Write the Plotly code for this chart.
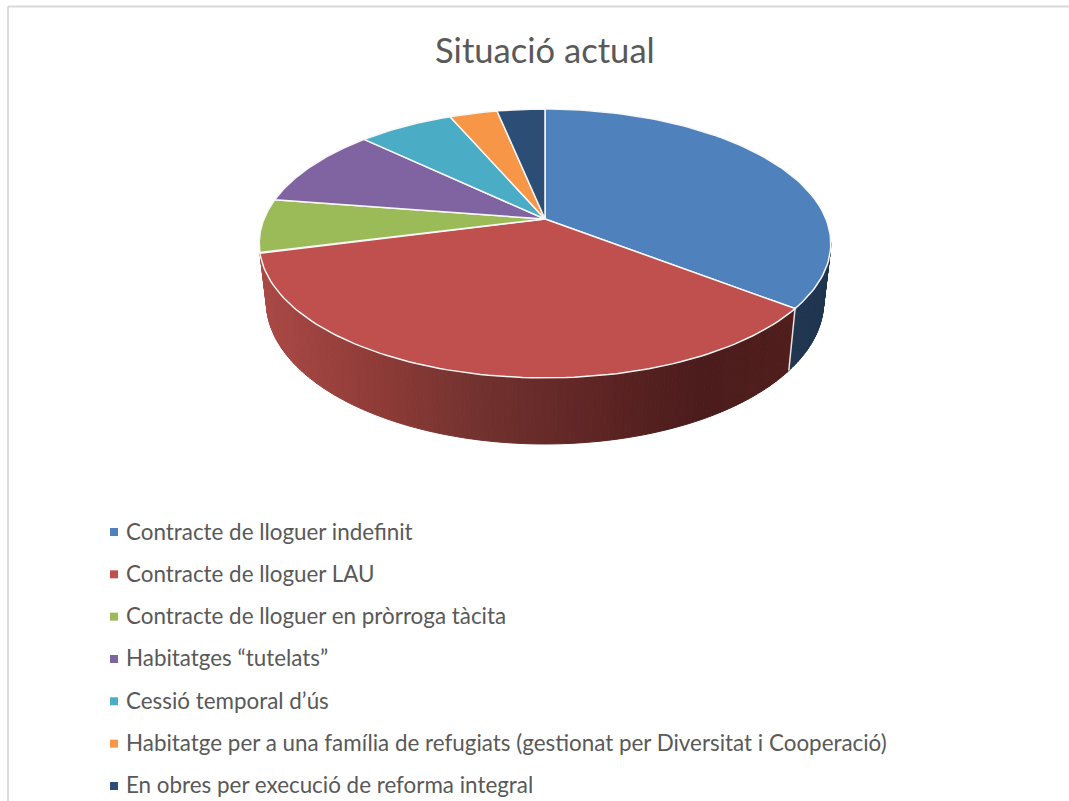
import numpy as np
import plotly.graph_objects as go

# Dwellings by current situation
categories = [
    "Contracte de lloguer indefinit",
    "Contracte de lloguer LAU",
    "Contracte de lloguer en pròrroga tàcita",
    "Habitatges “tutelats”",
    "Cessió temporal d’ús",
    "Habitatge per a una família de refugiats (gestionat per Diversitat i Cooperació)",
    "En obres per execució de reforma integral",
]
values = [11, 11, 2, 3, 2, 1, 1]
slice_colors = ["#4F81BD", "#C0504D", "#9BBB59", "#8064A2", "#4BACC6", "#F79646", "#2C4D75"]
side_color = "#1F3550"
title_text = "Situació actual"

TEXT = "#595959"
FONT = "Lato, Carlito, sans-serif"

# Perspective disc in page pixels
CX, CY = 545.0, 219.0
AX, AY, PERSP = 281.0, 130.0, 0.182
BASE_CY, BASE_SX, BASE_SY = 276.0, 0.975, 1.057


def top_rim(theta):
    """Clockwise angle from 12 o'clock (degrees) to a point on the upper disc."""
    t = np.radians(theta)
    w = 1 + PERSP * np.cos(t)
    return CX + AX * np.sin(t) / w, CY - AY * np.cos(t) / w


def base_rim(theta):
    x, y = top_rim(theta)
    return CX + BASE_SX * (x - CX), BASE_CY + BASE_SY * (y - CY)


def wall_shade(x):
    """Horizontal shading of the large front wall."""
    xs = [262, 380, 480, 600, 700, 800]
    r = [170, 142, 114, 94, 76, 80]
    g = [73, 59, 50, 37, 28, 31]
    b = [70, 55, 47, 36, 28, 29]
    return "rgb(%d,%d,%d)" % (np.interp(x, xs, r), np.interp(x, xs, g), np.interp(x, xs, b))


edges = 360.0 * np.concatenate([[0], np.cumsum(values)]) / sum(values)
fig = go.Figure()

# Side wall, from the right silhouette round to the left
wall_start, wall_end = 100.0, edges[2]
step = 0.75
wall_cuts = sorted(set(np.arange(wall_start, wall_end, step)) | {edges[1], wall_end})
for a, b in zip(wall_cuts[:-1], wall_cuts[1:]):
    th = np.array([a, b])
    tx, ty = top_rim(th)
    bx, by = base_rim(th)
    xs = list(tx) + list(bx[::-1]) + [tx[0]]
    ys = list(ty) + list(by[::-1]) + [ty[0]]
    col = side_color if b <= edges[1] + 1e-9 else wall_shade(xs[0] / 2 + xs[1] / 2)
    fig.add_trace(go.Scatter(x=xs, y=ys, mode="lines", fill="toself", fillcolor=col,
                             line=dict(color=col, width=1), hoverinfo="skip", showlegend=False))

# Seam between the two visible wall colours
sx0, sy0 = top_rim(edges[1])
sx1, sy1 = base_rim(edges[1])
fig.add_trace(go.Scatter(x=[sx0, sx1], y=[sy0, sy1], mode="lines",
                         line=dict(color="#E4E4E4", width=1.5), hoverinfo="skip", showlegend=False))

# Upper face of every slice
for i, name in enumerate(categories):
    th = np.linspace(edges[i], edges[i + 1], 90)
    ax_, ay_ = top_rim(th)
    fig.add_trace(go.Scatter(x=[CX, *ax_, CX], y=[CY, *ay_, CY], mode="lines", fill="toself",
                             fillcolor=slice_colors[i], line=dict(color="#F7F7F7", width=1.5),
                             name=name, hoverinfo="name", showlegend=False))

# Legend rows
ROW0, ROW_STEP, SWATCH_X, LABEL_X = 532.0, 42.33, 114, 124
for i, name in enumerate(categories):
    row = ROW0 + i * ROW_STEP
    fig.add_trace(go.Scatter(x=[SWATCH_X], y=[row], mode="markers",
                             marker=dict(symbol="square", size=8, color=slice_colors[i]),
                             hoverinfo="skip", showlegend=False))
    fig.add_annotation(x=LABEL_X, y=row - 1, xref="x", yref="y", text=name, showarrow=False,
                       xanchor="left", yanchor="middle", font=dict(family=FONT, size=22.4, color=TEXT))

# Chart frame: only the top and left edges fall inside the page
frame = dict(color="#D9D9D9", width=2)
fig.add_shape(type="line", x0=8, x1=1069, y0=6.5, y1=6.5, xref="x", yref="y", line=frame)
fig.add_shape(type="line", x0=8, x1=8, y0=6.5, y1=801, xref="x", yref="y", line=frame)

fig.add_annotation(x=544.5, y=49.5, xref="x", yref="y", text=title_text, showarrow=False,
                   xanchor="center", yanchor="middle", font=dict(family=FONT, size=34.6, color=TEXT))

fig.update_layout(
    width=1069, height=801, autosize=False,
    margin=dict(l=0, r=0, t=0, b=0),
    paper_bgcolor="white", plot_bgcolor="white", showlegend=False,
    xaxis=dict(range=[0, 1069], visible=False, fixedrange=True),
    yaxis=dict(range=[801, 0], visible=False, fixedrange=True),
)
fig.write_html("out.html", config=dict(displayModeBar=False))
